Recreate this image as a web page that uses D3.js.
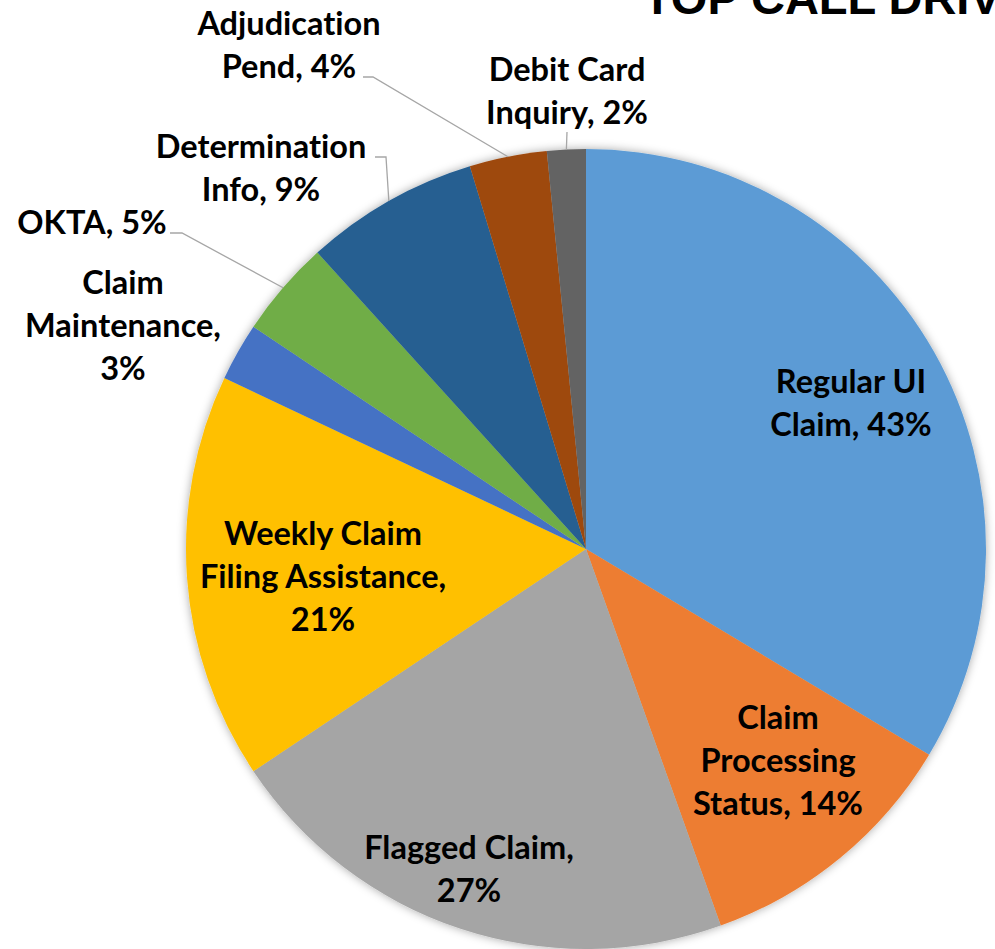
<!DOCTYPE html>
<html>
<head>
<meta charset="utf-8">
<script src="https://cdn.jsdelivr.net/npm/d3@7"></script>
<style>
  body { margin: 0; background: #fff; }
  svg { display: block; }
</style>
</head>
<body>
<svg id="chart"></svg>
<script>
// Chart data: call driver categories and their shares (as labelled)
const categories = [
  "Regular UI Claim",
  "Claim Processing Status",
  "Flagged Claim",
  "Weekly Claim Filing Assistance",
  "Claim Maintenance",
  "OKTA",
  "Determination Info",
  "Adjudication Pend",
  "Debit Card Inquiry"
];
const values = [43, 14, 27, 21, 3, 5, 9, 4, 2];
// label text broken into lines the way the chart wraps them
const labelLines = [
  ["Regular UI", "Claim, 43%"],
  ["Claim", "Processing", "Status, 14%"],
  ["Flagged Claim,", "27%"],
  ["Weekly Claim", "Filing Assistance,", "21%"],
  ["Claim", "Maintenance,", "3%"],
  ["OKTA, 5%"],
  ["Determination", "Info, 9%"],
  ["Adjudication", "Pend, 4%"],
  ["Debit Card", "Inquiry, 2%"]
];
const titleText = "TOP CALL DRIVERS";

// Layout
const width = 995;
const height = 949;
const cx = 586, cy = 549;   // pie center
const radius = 400;
const lineHeight = 43;
const capHalf = 11;

const colors = ["#5B9BD5", "#ED7D31", "#A5A5A5", "#FFC000", "#4472C4",
                "#70AD47", "#255E91", "#9E480E", "#636363"];

// label centres relative to pie centre, plus leader-line start for outside labels
const labelLayout = [
  { dx: 265, dy: -146 },
  { dx: 192, dy: 212 },
  { dx: -117, dy: 320 },
  { dx: -263, dy: 28 },
  { dx: -463, dy: -223 },
  { dx: -494, dy: -326, leader: [-416, -316], elbow: 12 },
  { dx: -325, dy: -381, leader: [-211, -392], elbow: 11 },
  { dx: -297, dy: -504, leader: [-223, -472], elbow: 10 },
  { dx: -19, dy: -458, leader: [-19, -417], elbow: 0 }
];

const svg = d3.select("#chart")
    .attr("width", width)
    .attr("height", height);

// soft shadow around the pie
const defs = svg.append("defs");
const filter = defs.append("filter")
    .attr("id", "shadow")
    .attr("x", "-10%").attr("y", "-10%")
    .attr("width", "120%").attr("height", "120%");
filter.append("feDropShadow")
    .attr("dx", 0).attr("dy", 0)
    .attr("stdDeviation", 5)
    .attr("flood-color", "#000")
    .attr("flood-opacity", 0.35);

// Title (runs off the right edge like the original)
svg.append("text")
    .attr("x", 643)
    .attr("y", 14)
    .style("font-family", "'Liberation Sans', Arial, sans-serif")
    .style("font-weight", "bold")
    .style("font-size", "47px")
    .style("fill", "#000")
    .text(titleText);

const pie = d3.pie().sort(null).value(d => d);
const arcs = pie(values);
const arc = d3.arc().innerRadius(0).outerRadius(radius);

const g = svg.append("g")
    .attr("transform", `translate(${cx}, ${cy})`);

g.append("g")
    .attr("filter", "url(#shadow)")
    .selectAll("path")
    .data(arcs)
    .enter()
    .append("path")
    .attr("d", arc)
    .attr("fill", (d, i) => colors[i]);

// Leader lines for the small slices
const leaderData = arcs.map((d, i) => ({ d, lay: labelLayout[i] })).filter(o => o.lay.leader);
g.selectAll(".leader")
    .data(leaderData)
    .enter()
    .append("polyline")
    .attr("class", "leader")
    .attr("points", o => {
        const mid = (o.d.startAngle + o.d.endAngle) / 2;
        const ex = radius * Math.sin(mid);
        const ey = -radius * Math.cos(mid);
        const [sx, sy] = o.lay.leader;
        const pts = [[sx, sy]];
        if (o.lay.elbow) pts.push([sx + o.lay.elbow, sy]);
        pts.push([ex, ey]);
        return pts.map(p => p.join(",")).join(" ");
    })
    .attr("fill", "none")
    .attr("stroke", "#A6A6A6")
    .attr("stroke-width", 1.3);

// Data labels
const labels = g.selectAll(".label")
    .data(arcs)
    .enter()
    .append("text")
    .attr("class", "label")
    .attr("text-anchor", "middle")
    .style("font-family", "Lato, 'Open Sans', sans-serif")
    .style("font-weight", "bold")
    .style("font-size", "32.5px")
    .style("font-variant-ligatures", "none")
    .style("fill", "#000");

labels.each(function(d, i) {
    const lines = labelLines[i];
    const lay = labelLayout[i];
    const n = lines.length;
    d3.select(this).selectAll("tspan")
        .data(lines)
        .enter()
        .append("tspan")
        .attr("x", lay.dx)
        .attr("y", (t, k) => lay.dy + (k - (n - 1) / 2) * lineHeight + capHalf)
        .text(t => t);
});
</script>
</body>
</html>
